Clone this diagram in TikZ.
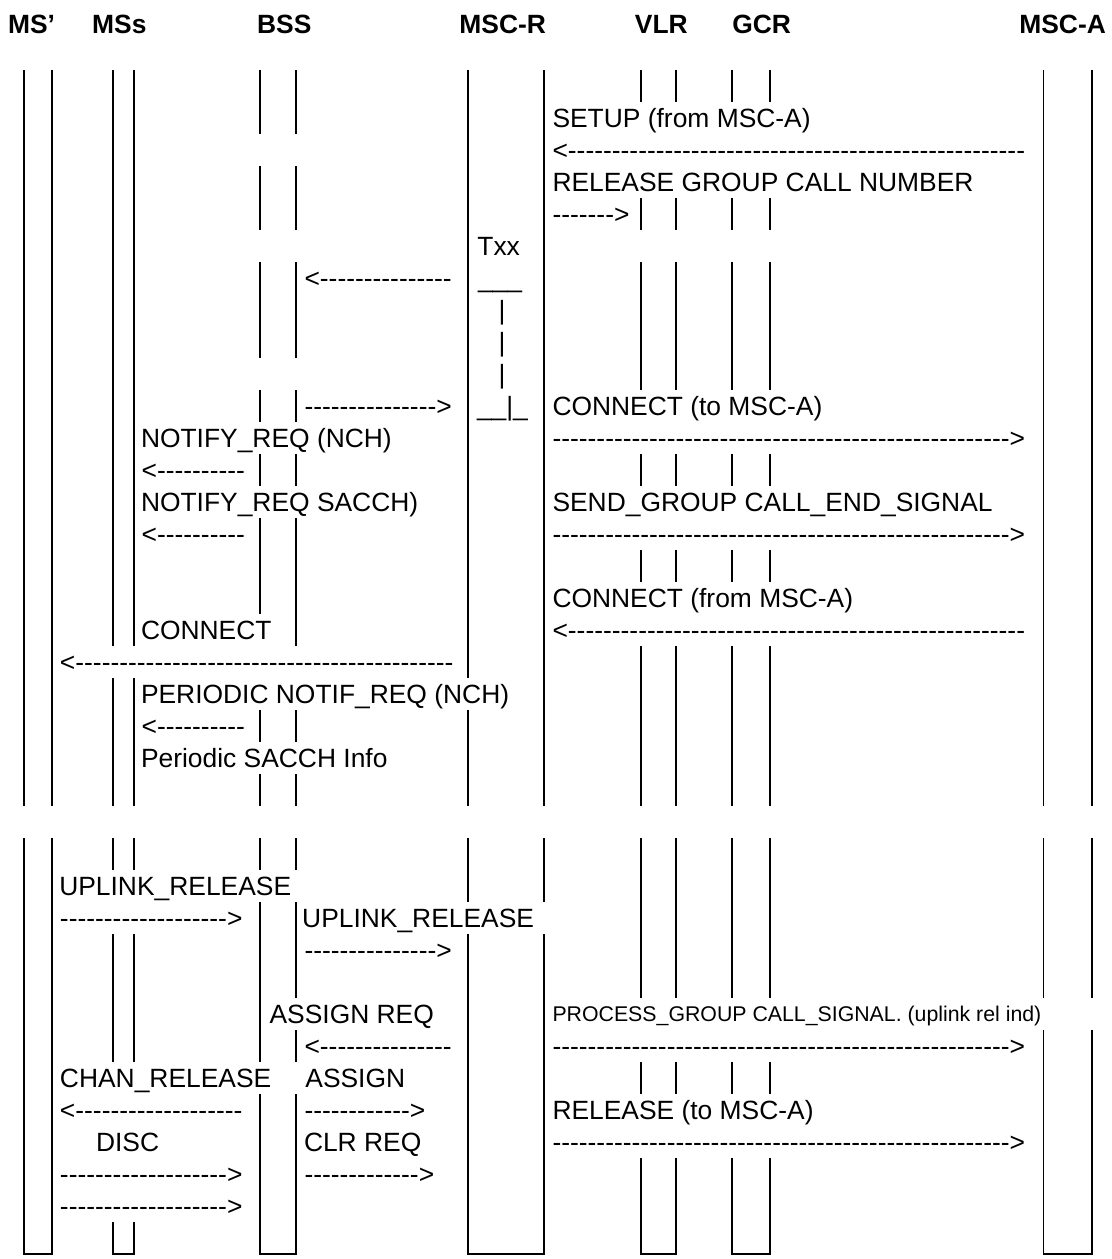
\documentclass[tikz,border=0pt]{standalone}
\usepackage{fontspec}
\setmainfont{Liberation Sans}[Ligatures=TeXOff]
\newcommand\hy[1]{\foreach \k in {1,...,#1}{-}}
\newcommand\lifeseg[3]{\draw[life] (#1,{102+32*(#2)}) -- (#1,{134+32*(#3)});}
\newcommand\lifebox[3]{\draw[life] (#1,{102+32*(#3)}) -- (#1,1254) -- (#2,1254) -- (#2,{102+32*(#3)});}
\begin{document}
\begin{tikzpicture}[x=0.5pt,y=-0.5pt,
  life/.style={line width=0.95pt, line cap=butt, line join=miter},
  txt/.style={anchor=base west, inner sep=0pt, outer sep=0pt, font=\fontsize{13.2pt}{15pt}\selectfont},
  small/.style={txt, font=\fontsize{10.65pt}{12pt}\selectfont},
  hdr/.style={anchor=base, inner sep=0pt, outer sep=0pt, font=\fontsize{13.2pt}{15pt}\selectfont\bfseries}]
\fill[white] (0,0) rectangle (1112,1259);
\useasboundingbox (0,0) rectangle (1112,1259);

% headers
\node[hdr] (hMSp) at (31.6,33) {MS’};
\node[hdr] (hMSs) at (119.3,33) {MSs};
\node[hdr] (hBSS) at (284.3,33) {BSS};
\node[hdr] (hMSCR) at (502.7,33) {MSC-R};
\node[hdr] (hVLR) at (661.3,33) {VLR};
\node[hdr] (hGCR) at (761.7,33) {GCR};
\node[hdr] (hMSCA) at (1062.6,33) {MSC-A};

% lifelines
% MS'
\foreach \x in {23.9,51.8} {\lifeseg{\x}{-1}{21}}
\lifebox{23.9}{51.8}{23}
% MSs
\foreach \x in {112.9,133.9} {
  \foreach \a/\b in {-1/16,18/21,23/23,26/29} {\lifeseg{\x}{\a}{\b}}
}
\lifebox{112.9}{133.9}{35}
% BSS
\foreach \a/\b in {-1/0,2/3,5/7,9/9,11/11,13/15,19/19,21/21,23/23,25/29} {\lifeseg{259.6}{\a}{\b}}
\foreach \a/\b in {-1/0,2/3,5/7,9/9,11/11,13/16,19/19,21/21,23/23,25/27,29/29} {\lifeseg{295.7}{\a}{\b}}
\lifebox{259.6}{295.7}{31}
% MSC-R
\foreach \a/\b in {-1/17,19/21,23/24} {\lifeseg{467.9}{\a}{\b}}
\foreach \a/\b in {-1/21,23/24} {\lifeseg{543.6}{\a}{\b}}
\lifebox{467.9}{543.6}{26}
% VLR and GCR
\foreach \x in {641.1,676.1,732.3,769.8} {
  \foreach \a/\b in {-1/-1,3/3,5/8,11/11,14/14,17/21,23/27,30/30} {\lifeseg{\x}{\a}{\b}}
}
\lifebox{641.1}{676.1}{33}
\lifebox{732.3}{769.8}{33}
% MSC-A
\foreach \x in {1043.5,1091.6} {
  \foreach \a/\b in {-1/21,23/27} {\lifeseg{\x}{\a}{\b}}
}
\lifebox{1043.5}{1091.6}{29}

% rows: baseline = 127.5 + 32 r
\node[txt] (t0) at (552.5,127.5) {SETUP (from MSC-A)};
\node[txt] (a1) at (552.5,159.5) {<\hy{52}};
\node[txt] (t2) at (552.5,191.5) {RELEASE GROUP CALL NUMBER};
\node[txt] (a3) at (552.5,223.5) {\hy{7}>};
\node[txt] (txx) at (477.4,255.5) {Txx};
\node[txt] (a5) at (304.5,287.5) {<\hy{15}};
\node[txt] (u5) at (478,287.5) {\_\_\_};
\node[txt] (b6) at (498.6,319.5) {|};
\node[txt] (b7) at (498.6,351.5) {|};
\node[txt] (b8) at (498.6,383.5) {|};
\node[txt] (a9) at (304.5,415.5) {\hy{15}>};
\node[txt] (u9) at (477,415.5) {\_\_|\_};
\node[txt] (t9) at (552.5,415.5) {CONNECT (to MSC-A)};
\node[txt] (t10) at (141,447.5) {NOTIFY\_REQ (NCH)};
\node[txt] (a10) at (552.5,447.5) {\hy{52}>};
\node[txt] (a11) at (141.6,479.5) {<\hy{10}};
\node[txt] (t12a) at (141,511.5) {NOTIFY\_REQ SACCH)};
\node[txt] (t12b) at (552.5,511.5) {SEND\_GROUP CALL\_END\_SIGNAL};
\node[txt] (a13a) at (141.6,543.5) {<\hy{10}};
\node[txt] (a13b) at (552.5,543.5) {\hy{52}>};
\node[txt] (t15) at (552.5,607.5) {CONNECT (from MSC-A)};
\node[txt] (t16) at (141,639.5) {CONNECT};
\node[txt] (a16) at (552.5,639.5) {<\hy{52}};
\node[txt] (a17) at (60,671.5) {<\hy{43}};
\node[txt] (t18) at (141,703.5) {PERIODIC NOTIF\_REQ (NCH)};
\node[txt] (a19) at (141.6,735.5) {<\hy{10}};
\node[txt] (t20) at (141,767.5) {Periodic SACCH Info};

\node[txt] (t24) at (59.3,895.5) {UPLINK\_RELEASE};
\node[txt] (a25) at (60,927.5) {\hy{19}>};
\node[txt] (t25) at (302.2,927.5) {UPLINK\_RELEASE};
\node[txt] (a26) at (304.5,959.5) {\hy{15}>};
\node[txt] (t28a) at (269.6,1023.5) {ASSIGN REQ};
\node[small] (t28b) at (552.5,1021.5) {PROCESS\_GROUP CALL\_SIGNAL. (uplink rel ind)};
\node[txt] (a29a) at (304.5,1055.5) {<\hy{15}};
\node[txt] (a29b) at (552.5,1055.5) {\hy{52}>};
\node[txt] (t30a) at (60,1087.5) {CHAN\_RELEASE};
\node[txt] (t30b) at (305.4,1087.5) {ASSIGN};
\node[txt] (a31a) at (60,1119.5) {<\hy{19}};
\node[txt] (a31b) at (304.5,1119.5) {\hy{12}>};
\node[txt] (t31) at (552.5,1119.5) {RELEASE (to MSC-A)};
\node[txt] (t32a) at (96,1151.5) {DISC};
\node[txt] (t32b) at (304,1151.5) {CLR REQ};
\node[txt] (a32) at (552.5,1151.5) {\hy{52}>};
\node[txt] (a33a) at (60,1183.5) {\hy{19}>};
\node[txt] (a33b) at (304.5,1183.5) {\hy{13}>};
\node[txt] (a34) at (60,1215.5) {\hy{19}>};
\end{tikzpicture}
\end{document}
